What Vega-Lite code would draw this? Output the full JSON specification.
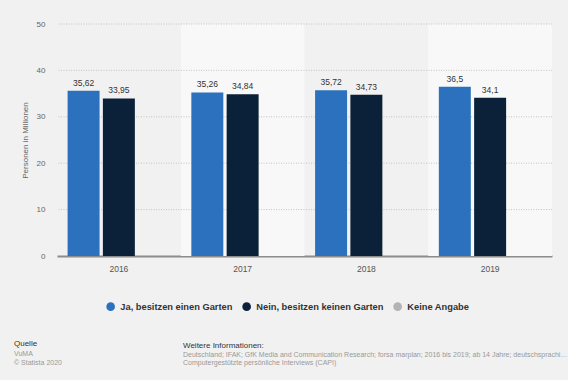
{
  "$schema": "https://vega.github.io/schema/vega-lite/v6.json",
  "background": "#f1f1f1",
  "padding": {"left": 14, "top": 20, "right": 0, "bottom": 0},
  "bounds": "flush",
  "spacing": 114,
  "config": {
    "font": "Liberation Sans",
    "locale": {"number": {"decimal": ",", "thousands": ".", "grouping": [3], "currency": ["", " €"]}},
    "view": {"stroke": null},
    "axisX": {"labelAngle": 0, "ticks": false, "domainColor": "#8c8c8c", "domainWidth": 2, "labelFontSize": 8.5, "labelColor": "#555555", "labelPadding": 8, "grid": false, "zindex": 1},
    "axisY": {"domain": false, "ticks": false, "grid": false, "labelFontSize": 8, "labelColor": "#666666", "labelPadding": 12, "titleFontSize": 8, "titleFontWeight": "normal", "titleColor": "#666666", "titlePadding": 6.5},
    "title": {"anchor": "start", "orient": "top", "offset": 0, "fontSize": 8, "fontWeight": "normal", "color": "#333333", "subtitleFontSize": 7, "subtitleColor": "#999999", "subtitlePadding": 2, "subtitleLineHeight": 9}
  },
  "resolve": {"legend": {"color": "independent"}},
  "vconcat": [
    {
      "width": 495,
      "height": 232,
      "layer": [
        {
          "data": {"values": [{"year": "2017"}, {"year": "2019"}]},
          "mark": {"type": "bar", "color": "#f8f8f8"},
          "encoding": {
            "x": {"field": "year", "type": "nominal", "title": null, "scale": {"paddingInner": 0, "paddingOuter": 0}},
            "y": {"datum": 50, "type": "quantitative", "title": "Personen in Millionen", "scale": {"domain": [0, 50]}},
            "y2": {"datum": 0}
          }
        },
        {
          "data": {"values": [{"tick": 10}, {"tick": 20}, {"tick": 30}, {"tick": 40}, {"tick": 50}]},
          "mark": {"type": "rule", "color": "#c4c4c4", "strokeDash": [1, 1.5], "strokeWidth": 1},
          "encoding": {
            "y": {"field": "tick", "type": "quantitative", "title": "Personen in Millionen", "scale": {"domain": [0, 50]}}
          }
        },
        {
          "data": {"values": [
            {"year": "2016", "series": "Ja, besitzen einen Garten", "value": 35.62},
            {"year": "2016", "series": "Nein, besitzen keinen Garten", "value": 33.95},
            {"year": "2017", "series": "Ja, besitzen einen Garten", "value": 35.26},
            {"year": "2017", "series": "Nein, besitzen keinen Garten", "value": 34.84},
            {"year": "2018", "series": "Ja, besitzen einen Garten", "value": 35.72},
            {"year": "2018", "series": "Nein, besitzen keinen Garten", "value": 34.73},
            {"year": "2019", "series": "Ja, besitzen einen Garten", "value": 36.5},
            {"year": "2019", "series": "Nein, besitzen keinen Garten", "value": 34.1}
          ]},
          "encoding": {
            "x": {"field": "year", "type": "nominal", "title": null, "scale": {"paddingInner": 0, "paddingOuter": 0}},
            "xOffset": {"field": "series", "type": "nominal", "scale": {"domain": ["Ja, besitzen einen Garten", "Nein, besitzen keinen Garten", "Keine Angabe"], "paddingInner": 0.094, "paddingOuter": 0.3}},
            "y": {"field": "value", "type": "quantitative", "title": "Personen in Millionen", "scale": {"domain": [0, 50]}, "axis": {"values": [0, 10, 20, 30, 40, 50]}}
          },
          "layer": [
            {
              "mark": {"type": "bar"},
              "encoding": {
                "color": {
                  "field": "series",
                  "type": "nominal",
                  "scale": {"domain": ["Ja, besitzen einen Garten", "Nein, besitzen keinen Garten", "Keine Angabe"], "range": ["#2c71bd", "#0b2139", "#b3b3b3"]},
                  "legend": {
                    "title": null,
                    "orient": "none",
                    "direction": "horizontal",
                    "legendX": 49,
                    "legendY": 278,
                    "symbolType": "circle",
                    "symbolSize": 75,
                    "symbolStrokeWidth": 0,
                    "symbolOpacity": 1,
                    "labelFontSize": 9.3,
                    "labelFontWeight": "bold",
                    "labelColor": "#333333",
                    "labelOffset": 5,
                    "columnPadding": 9,
                    "padding": 0,
                    "labelLimit": 300
                  }
                }
              }
            },
            {
              "mark": {"type": "text", "baseline": "middle", "dy": -8, "fontSize": 8.5, "color": "#333333"},
              "encoding": {
                "text": {"field": "value", "type": "quantitative", "format": "~g"}
              }
            }
          ]
        }
      ]
    },
    {
      "bounds": "flush",
      "spacing": 10,
      "hconcat": [
        {
          "width": 116,
          "height": 10,
          "view": {"fill": "#f1f1f1", "stroke": null},
          "data": {"values": []},
          "mark": {"type": "point"},
          "encoding": {},
          "title": {"text": "Quelle", "subtitle": ["VuMA", "© Statista 2020"], "dx": -43}
        },
        {
          "width": 385,
          "height": 10,
          "view": {"fill": "#f1f1f1", "stroke": null},
          "data": {"values": []},
          "mark": {"type": "point"},
          "encoding": {},
          "title": {"text": "Weitere Informationen:", "subtitle": ["Deutschland; IFAK; GfK Media and Communication Research; forsa marplan; 2016 bis 2019; ab 14 Jahre; deutschsprachige Bevölkerung", "Computergestützte persönliche Interviews (CAPI)"], "limit": 385, "subtitleLineHeight": 8, "subtitlePadding": 1, "offset": 4.5}
        }
      ]
    }
  ]
}
